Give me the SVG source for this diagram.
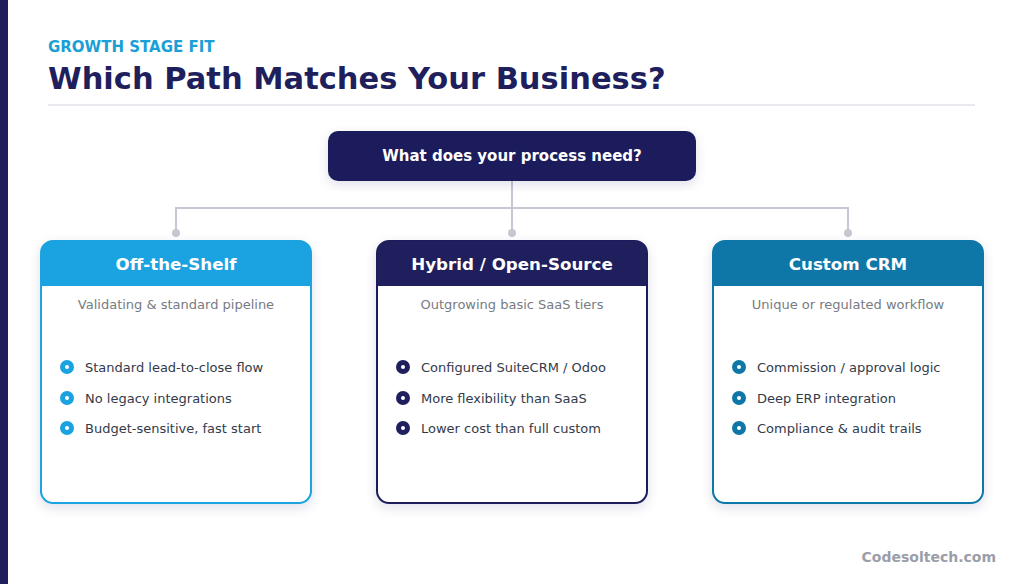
<svg xmlns="http://www.w3.org/2000/svg" width="1024" height="584" viewBox="0 0 1024 584">
<defs>
<style>
text{font-family:"DejaVu Sans",sans-serif}
.hd{font-size:16.7px;font-weight:bold;fill:#fff;text-anchor:middle}
.sub{font-size:13px;fill:#777b84;text-anchor:middle}
.it{font-size:13px;fill:#333a4a}
.con{stroke:#c5c8d0;stroke-width:2;fill:none}
</style>
<filter id="sh" x="-10%" y="-10%" width="120%" height="130%"><feDropShadow dx="0" dy="4" stdDeviation="6" flood-color="#1e1f5c" flood-opacity="0.12"/></filter>
</defs>
<rect width="1024" height="584" fill="#fff"/>
<rect width="8" height="584" fill="#1e1f5c"/>
<text x="48" y="52" font-size="15" font-weight="bold" fill="#1a9fd6">GROWTH STAGE FIT</text>
<text x="48" y="89" font-size="30.5" font-weight="bold" fill="#1e1f5c">Which Path Matches Your Business?</text>
<line x1="48" y1="105" x2="975" y2="105" stroke="#e0e2e8" stroke-width="1.5"/>
<g id="connectors">
<path class="con" d="M512 181V208M176 233V208H848V233M512 208V233"/>
<circle cx="176" cy="233" r="4" fill="#c5c8d0"/><circle cx="512" cy="233" r="4" fill="#c5c8d0"/><circle cx="848" cy="233" r="4" fill="#c5c8d0"/>
</g>
<g id="root">
<rect x="328" y="131" width="368" height="50" rx="10" fill="#1e1f5c" filter="url(#sh)"/>
<text x="512" y="161" font-size="15" font-weight="bold" fill="#fff" text-anchor="middle">What does your process need?</text>
</g>
<g id="offshelf">
<rect x="41" y="241" width="270" height="262" rx="12" fill="#fff" stroke="#1aa3e0" stroke-width="2" filter="url(#sh)"/>
<path d="M41 286V253a12 12 0 0 1 12-12h246a12 12 0 0 1 12 12v33z" fill="#1aa3e0"/>
<text class="hd" x="176" y="270">Off-the-Shelf</text>
<text class="sub" x="176" y="309">Validating &amp; standard pipeline</text>
<g fill="#1aa3e0"><circle cx="67" cy="367" r="7"/><circle cx="67" cy="398" r="7"/><circle cx="67" cy="428" r="7"/></g>
<g fill="#fff"><circle cx="67" cy="367" r="2"/><circle cx="67" cy="398" r="2"/><circle cx="67" cy="428" r="2"/></g>
<text class="it" x="85" y="372">Standard lead-to-close flow</text>
<text class="it" x="85" y="403">No legacy integrations</text>
<text class="it" x="85" y="433">Budget-sensitive, fast start</text>
</g>
<g id="hybrid">
<rect x="377" y="241" width="270" height="262" rx="12" fill="#fff" stroke="#1e1f5c" stroke-width="2" filter="url(#sh)"/>
<path d="M377 286V253a12 12 0 0 1 12-12h246a12 12 0 0 1 12 12v33z" fill="#1e1f5c"/>
<text class="hd" x="512" y="270">Hybrid / Open-Source</text>
<text class="sub" x="512" y="309">Outgrowing basic SaaS tiers</text>
<g fill="#1e1f5c"><circle cx="403" cy="367" r="7"/><circle cx="403" cy="398" r="7"/><circle cx="403" cy="428" r="7"/></g>
<g fill="#fff"><circle cx="403" cy="367" r="2"/><circle cx="403" cy="398" r="2"/><circle cx="403" cy="428" r="2"/></g>
<text class="it" x="421" y="372">Configured SuiteCRM / Odoo</text>
<text class="it" x="421" y="403">More flexibility than SaaS</text>
<text class="it" x="421" y="433">Lower cost than full custom</text>
</g>
<g id="custom">
<rect x="713" y="241" width="270" height="262" rx="12" fill="#fff" stroke="#0e77a8" stroke-width="2" filter="url(#sh)"/>
<path d="M713 286V253a12 12 0 0 1 12-12h246a12 12 0 0 1 12 12v33z" fill="#0e77a8"/>
<text class="hd" x="848" y="270">Custom CRM</text>
<text class="sub" x="848" y="309">Unique or regulated workflow</text>
<g fill="#0e77a8"><circle cx="739" cy="367" r="7"/><circle cx="739" cy="398" r="7"/><circle cx="739" cy="428" r="7"/></g>
<g fill="#fff"><circle cx="739" cy="367" r="2"/><circle cx="739" cy="398" r="2"/><circle cx="739" cy="428" r="2"/></g>
<text class="it" x="757" y="372">Commission / approval logic</text>
<text class="it" x="757" y="403">Deep ERP integration</text>
<text class="it" x="757" y="433">Compliance &amp; audit trails</text>
</g>
<text x="996" y="562" font-size="14" font-weight="bold" fill="#9a9ea8" text-anchor="end">Codesoltech.com</text>
</svg>
